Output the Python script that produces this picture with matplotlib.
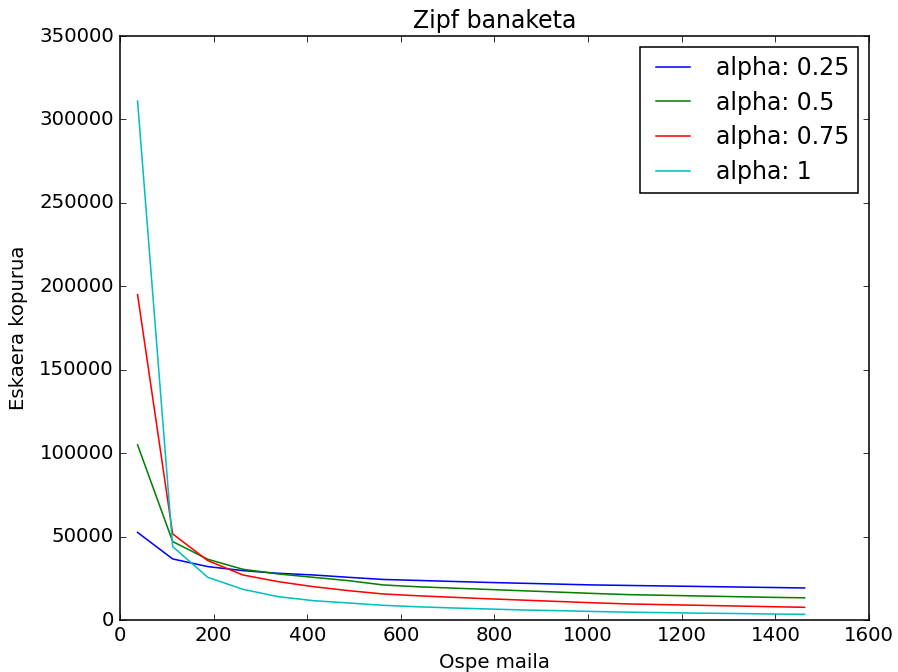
import matplotlib
matplotlib.use("Agg")
import matplotlib.pyplot as plt
import numpy as np

plt.style.use("classic")
plt.rcParams["font.size"] = 12.7

x = [37.5 + 75 * i for i in range(20)]
labels = ["alpha: 0.25", "alpha: 0.5", "alpha: 0.75", "alpha: 1"]
colors = ["b", "g", "r", "c"]
alpha_025 = [52500, 36600, 32000, 29600, 28000, 27000, 25600, 24300, 23700, 23100,
             22500, 22000, 21500, 21000, 20700, 20400, 20100, 19800, 19500, 19200]
alpha_05 = [105000, 47000, 36400, 30400, 27600, 25600, 23600, 21000, 19900, 19100,
            18300, 17500, 16700, 15900, 15200, 14800, 14400, 14000, 13600, 13300]
alpha_075 = [195000, 51600, 35600, 27000, 23000, 20000, 17600, 15600, 14500, 13600,
             12700, 11900, 11100, 10300, 9600, 9200, 8800, 8400, 8000, 7600]
alpha_1 = [311000, 44000, 25600, 18400, 14000, 11600, 10200, 8800, 7900, 7200,
           6600, 6000, 5600, 5100, 4700, 4400, 4100, 3900, 3600, 3400]
series = [alpha_025, alpha_05, alpha_075, alpha_1]

fig = plt.figure(figsize=(898 / 112, 672 / 112), dpi=112, facecolor="white")
ax = fig.add_axes([120 / 898, 1 - 620 / 672, (869 - 120) / 898, (620 - 36) / 672])
for ys, lab, c in zip(series, labels, colors):
    ax.plot(x, ys, color=c, label=lab)
ax.set_xlim(0, 1600)
ax.set_ylim(0, 350000)
ax.set_title("Zipf banaketa", fontsize=15.2)
ax.set_xlabel("Ospe maila", fontsize=12.7)
ax.set_ylabel("Eskaera kopurua", fontsize=12.7, labelpad=7)
ax.legend(loc="upper right", fontsize=15.2, labelspacing=0.45, borderaxespad=0.45)
fig.savefig("out.png", dpi=112, facecolor="white")
